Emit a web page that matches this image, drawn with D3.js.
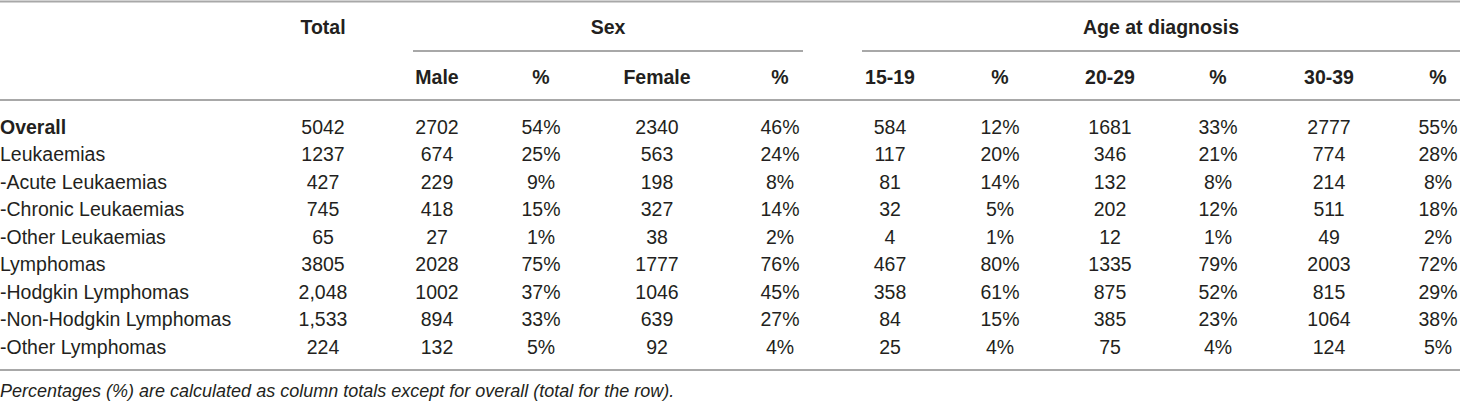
<!DOCTYPE html>
<html>
<head>
<meta charset="utf-8">
<script src="https://cdn.jsdelivr.net/npm/d3@7"></script>
<style>
  body { margin: 0; background: #fff; }
  text { font-family: "Liberation Sans", Arial, sans-serif; fill: #231f20; }
</style>
</head>
<body>
<svg id="table"></svg>
<script>
var w = 1460, h = 401;

var rowLabels = ["Overall", "Leukaemias", "-Acute Leukaemias", "-Chronic Leukaemias", "-Other Leukaemias",
  "Lymphomas", "-Hodgkin Lymphomas", "-Non-Hodgkin Lymphomas", "-Other Lymphomas"];
var total     = ["5042", "1237", "427", "745", "65", "3805", "2,048", "1,533", "224"];
var male      = [2702, 674, 229, 418, 27, 2028, 1002, 894, 132];
var malePct   = ["54%", "25%", "9%", "15%", "1%", "75%", "37%", "33%", "5%"];
var female    = [2340, 563, 198, 327, 38, 1777, 1046, 639, 92];
var femalePct = ["46%", "24%", "8%", "14%", "2%", "76%", "45%", "27%", "4%"];
var age1519   = [584, 117, 81, 32, 4, 467, 358, 84, 25];
var pct1519   = ["12%", "20%", "14%", "5%", "1%", "80%", "61%", "15%", "4%"];
var age2029   = [1681, 346, 132, 202, 12, 1335, 875, 385, 75];
var pct2029   = ["33%", "21%", "8%", "12%", "1%", "79%", "52%", "23%", "4%"];
var age3039   = [2777, 774, 214, 511, 49, 2003, 815, 1064, 124];
var pct3039   = ["55%", "28%", "8%", "18%", "2%", "72%", "29%", "38%", "5%"];

var colHeaders = ["Male", "%", "Female", "%", "15-19", "%", "20-29", "%", "30-39", "%"];
var groupHeaders = ["Sex", "Age at diagnosis"];
var footnote = "Percentages (%) are calculated as column totals except for overall (total for the row).";

// column centres (layout)
var colX = [437, 541, 657, 780, 890, 1000, 1110, 1218, 1329, 1438];
var totalX = 323;
var groups = [
  { label: groupHeaders[0], x0: 413, x1: 803 },
  { label: groupHeaders[1], x0: 862, x1: 1460 }
];

var columns = [male, malePct, female, femalePct, age1519, pct1519, age2029, pct2029, age3039, pct3039];

var svg = d3.select("#table").attr("width", w).attr("height", h);

var fontSize = 19.5;
var lineColor = "#a8a8a8";

// row centres
var y = d3.scalePoint()
  .domain(d3.range(rowLabels.length))
  .range([127, 347]);

function rule(y0, x0, x1) {
  svg.append("line")
    .attr("x1", x0).attr("x2", x1)
    .attr("y1", y0).attr("y2", y0)
    .attr("stroke", lineColor)
    .attr("stroke-width", 2);
}

rule(1.5, 0, w);
groups.forEach(function(g) { rule(51, g.x0, g.x1); });
rule(100, 0, w);
rule(370, 0, w);

// headers
svg.append("text")
  .attr("x", totalX).attr("y", 27).attr("dy", "0.35em")
  .attr("text-anchor", "middle").style("font-size", fontSize + "px").style("font-weight", "bold")
  .text("Total");

svg.selectAll("text.group").data(groups).enter().append("text")
  .attr("class", "group")
  .attr("x", function(g) { return (g.x0 + g.x1) / 2; })
  .attr("y", 27).attr("dy", "0.35em")
  .attr("text-anchor", "middle").style("font-size", fontSize + "px").style("font-weight", "bold")
  .text(function(g) { return g.label; });

svg.selectAll("text.colhead").data(colHeaders).enter().append("text")
  .attr("class", "colhead")
  .attr("x", function(d, i) { return colX[i]; })
  .attr("y", 77).attr("dy", "0.35em")
  .attr("text-anchor", "middle").style("font-size", fontSize + "px").style("font-weight", "bold")
  .text(function(d) { return d; });

// row labels
svg.selectAll("text.rowlabel").data(rowLabels).enter().append("text")
  .attr("class", "rowlabel")
  .attr("x", 0)
  .attr("y", function(d, i) { return y(i); }).attr("dy", "0.35em")
  .style("font-size", fontSize + "px")
  .style("font-weight", function(d, i) { return i === 0 ? "bold" : "normal"; })
  .text(function(d) { return d; });

// totals
svg.selectAll("text.total").data(total).enter().append("text")
  .attr("class", "total")
  .attr("x", totalX)
  .attr("y", function(d, i) { return y(i); }).attr("dy", "0.35em")
  .attr("text-anchor", "middle").style("font-size", fontSize + "px")
  .text(function(d) { return d; });

// body cells
columns.forEach(function(col, c) {
  svg.append("g").selectAll("text").data(col).enter().append("text")
    .attr("x", colX[c])
    .attr("y", function(d, i) { return y(i); }).attr("dy", "0.35em")
    .attr("text-anchor", "middle").style("font-size", fontSize + "px")
    .text(function(d) { return d; });
});

svg.append("text")
  .attr("x", 0).attr("y", 391).attr("dy", "0.35em")
  .style("font-size", "18px").style("font-style", "italic")
  .text(footnote);
</script>
</body>
</html>
